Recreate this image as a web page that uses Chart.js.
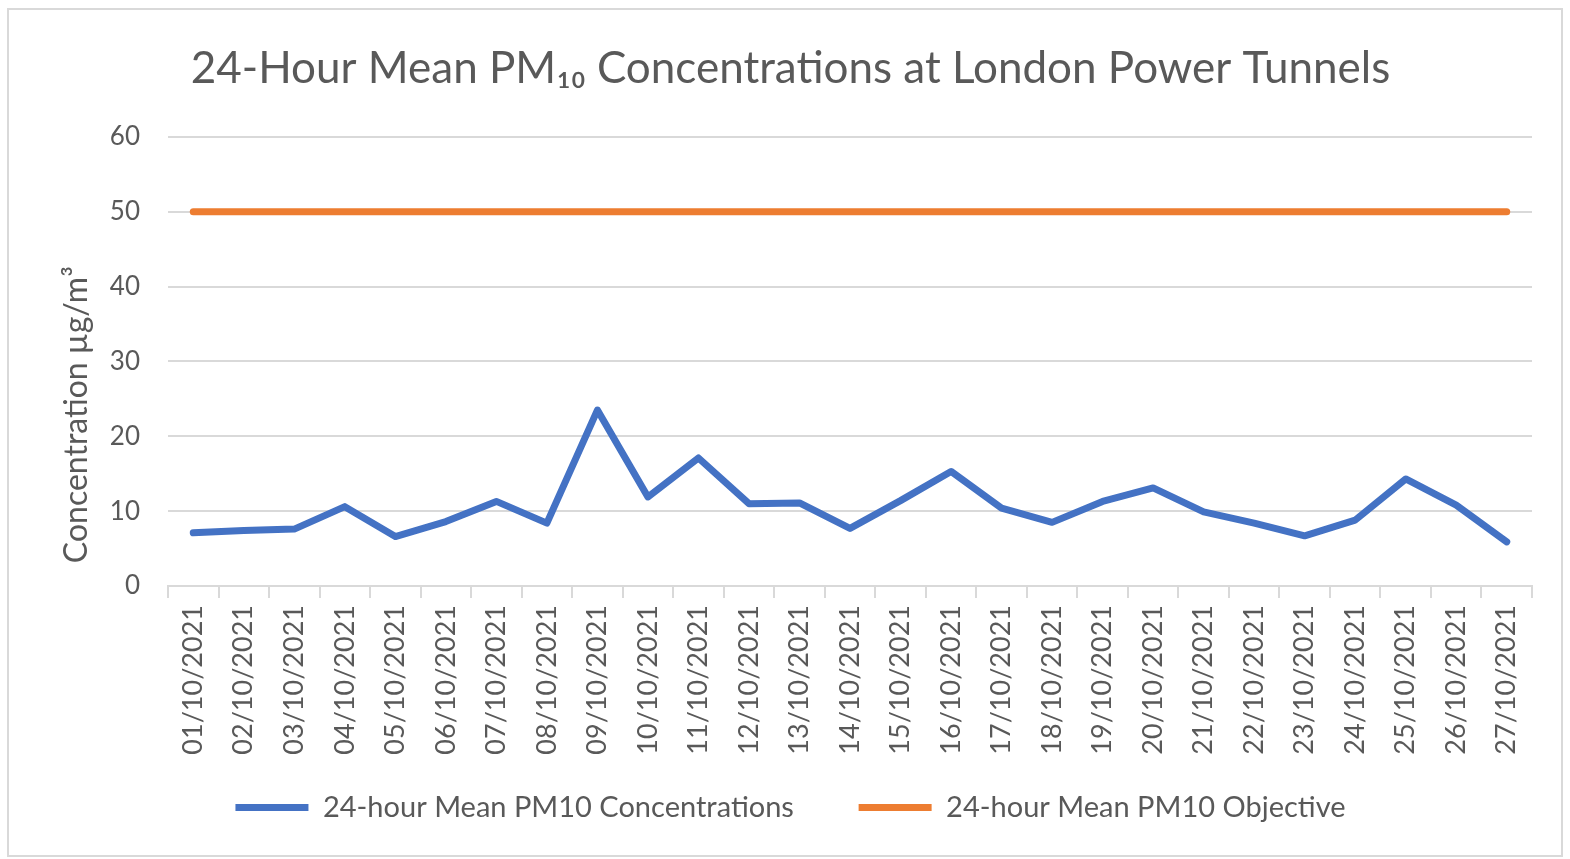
<!DOCTYPE html>
<html>
<head>
<meta charset="utf-8">
<title>PM10 London Power Tunnels</title>
<script src="https://cdn.jsdelivr.net/npm/chart.js@4.4.0/dist/chart.umd.min.js"></script>
<style>
  body { margin: 0; background: #fff; }
  #wrap {
    position: absolute; left: 7px; top: 8px;
    width: 1556px; height: 849px;
    border: 2px solid #d9d9d9; box-sizing: border-box;
  }
</style>
</head>
<body>
<div id="wrap"><canvas id="myChart" width="1552" height="845"></canvas></div>
<script>
// data
const dates = [
  '01/10/2021', '02/10/2021', '03/10/2021', '04/10/2021', '05/10/2021', '06/10/2021',
  '07/10/2021', '08/10/2021', '09/10/2021', '10/10/2021', '11/10/2021', '12/10/2021',
  '13/10/2021', '14/10/2021', '15/10/2021', '16/10/2021', '17/10/2021', '18/10/2021',
  '19/10/2021', '20/10/2021', '21/10/2021', '22/10/2021', '23/10/2021', '24/10/2021',
  '25/10/2021', '26/10/2021', '27/10/2021'
];
const pm10Mean = [7.1, 7.4, 7.6, 10.6, 6.6, 8.6, 11.3, 8.4, 23.5, 11.9, 17.1, 11.0, 11.1, 7.7,
  11.4, 15.3, 10.4, 8.5, 11.3, 13.1, 9.9, 8.4, 6.7, 8.8, 14.3, 10.8, 5.9];
const pm10Objective = [50, 50, 50, 50, 50, 50, 50, 50, 50, 50, 50, 50, 50, 50,
  50, 50, 50, 50, 50, 50, 50, 50, 50, 50, 50, 50, 50];
const yTicks = [0, 10, 20, 30, 40, 50, 60];

const grey = '#595959';
const gridGrey = '#d9d9d9';
const fontFam = 'Lato, "Open Sans", sans-serif';

let ctx = document.getElementById('myChart').getContext('2d');

let myChart = new Chart(ctx, {
  type: 'line',
  data: {
    labels: dates,
    datasets: [{
      label: '24-hour Mean PM10 Concentrations',
      data: pm10Mean,
      borderColor: '#4472c4',
      backgroundColor: '#4472c4',
      borderWidth: 7,
      pointRadius: 0,
      borderCapStyle: 'round',
      borderJoinStyle: 'round',
      tension: 0
    }, {
      label: '24-hour Mean PM10 Objective',
      data: pm10Objective,
      borderColor: '#ed7d31',
      backgroundColor: '#ed7d31',
      borderWidth: 7,
      pointRadius: 0,
      borderCapStyle: 'round',
      tension: 0
    }]
  },
  options: {
    responsive: false,
    animation: false,
    layout: { padding: { left: 40, right: 29, top: 0, bottom: 23 } },
    plugins: {
      title: {
        display: true,
        text: '24-Hour Mean PM₁₀ Concentrations at London Power Tunnels',
        color: grey,
        font: { family: fontFam, size: 44, weight: 'normal' },
        padding: { top: 32, bottom: 42 }
      },
      legend: {
        position: 'bottom',
        labels: {
          color: grey,
          font: { family: fontFam, size: 29 },
          boxWidth: 73,
          boxHeight: 7,
          padding: 35,
          generateLabels: function(chart) {
            let items = Chart.defaults.plugins.legend.labels.generateLabels(chart);
            items.forEach(function(it) { it.lineWidth = 0; });
            // wider gap between the two entries, like the original
            items[0].text = items[0].text + '    ';
            return items;
          }
        }
      },
      tooltip: { enabled: false }
    },
    scales: {
      x: {
        offset: true,
        grid: {
          offset: true,
          drawOnChartArea: false,
          drawTicks: true,
          tickLength: 12,
          color: gridGrey,
          lineWidth: 2
        },
        border: { display: true, color: gridGrey, width: 2 },
        ticks: {
          color: grey,
          font: { family: fontFam, size: 27 },
          minRotation: 90,
          maxRotation: 90,
          autoSkip: false,
          padding: 7
        },
        afterFit: function(scale) { scale.height = 172; }
      },
      y: {
        min: 0,
        max: 60,
        afterBuildTicks: function(scale) {
          scale.ticks = yTicks.map(function(v) { return { value: v }; });
        },
        grid: { color: gridGrey, lineWidth: 2, drawTicks: false },
        border: { display: false },
        ticks: {
          color: grey,
          font: { family: fontFam, size: 26 },
          padding: 28
        },
        title: {
          display: true,
          // trailing spaces push the centred title down as in the original
          text: 'Concentration µg/m³             ',
          color: grey,
          font: { family: fontFam, size: 32 },
          padding: { top: 8, bottom: 0 }
        },
        afterFit: function(scale) { scale.width = 119; }
      }
    }
  }
});
</script>
</body>
</html>
